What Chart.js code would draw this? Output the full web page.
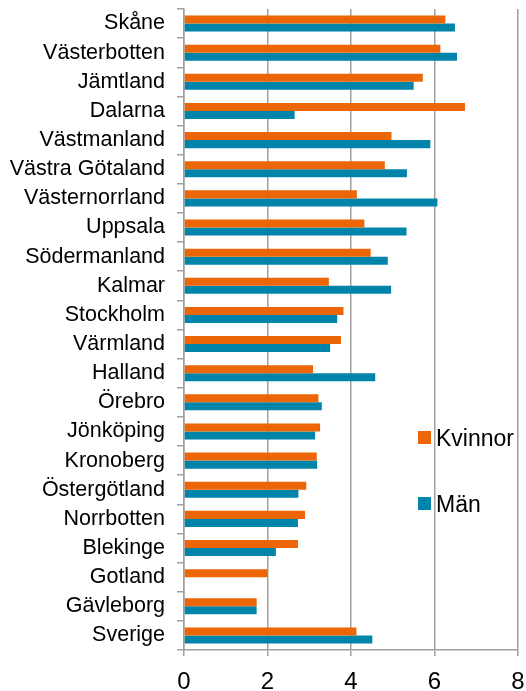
<!DOCTYPE html>
<html>
<head>
<meta charset="utf-8">
<script src="https://cdn.jsdelivr.net/npm/chart.js@4/dist/chart.umd.min.js"></script>
<style>
  html, body { margin: 0; padding: 0; background: #fff; }
  #wrap { position: relative; width: 526px; height: 691px; }
  canvas { display: block; }
  .leg { position: absolute; font-family: "Liberation Sans", Arial, sans-serif; font-size: 23px; color: #000; line-height: 26px; white-space: nowrap; }
  .leg span.sw { position: absolute; left: 0; top: 6.5px; width: 13px; height: 13px; }
  .leg span.tx { position: absolute; left: 18px; top: 0; }
</style>
</head>
<body>
<div id="wrap">
  <canvas id="c" width="526" height="691"></canvas>
  <div id="legend"></div>
</div>
<script>
const categories = ["Skåne","Västerbotten","Jämtland","Dalarna","Västmanland","Västra Götaland","Västernorrland","Uppsala","Södermanland","Kalmar","Stockholm","Värmland","Halland","Örebro","Jönköping","Kronoberg","Östergötland","Norrbotten","Blekinge","Gotland","Gävleborg","Sverige"];
const kvinnor = [6.26,6.14,5.72,6.73,4.97,4.81,4.14,4.32,4.47,3.47,3.82,3.76,3.09,3.22,3.26,3.18,2.93,2.90,2.73,2.00,1.74,4.13];
const man = [6.49,6.54,5.50,2.65,5.90,5.34,6.07,5.33,4.88,4.96,3.67,3.50,4.58,3.30,3.14,3.19,2.74,2.73,2.20,null,1.74,4.51];
const seriesNames = ["Kvinnor","Män"];
const xTicks = [0,2,4,6,8];

const colors = ["#ec6607", "#0084aa"];
const gridColor = "#a0a0a0";
const font = "'Liberation Sans', Arial, sans-serif";

const chart = new Chart(document.getElementById('c'), {
  type: 'bar',
  data: {
    labels: categories,
    datasets: [
      { label: seriesNames[0], data: kvinnor, backgroundColor: colors[0], categoryPercentage: 0.55, barPercentage: 1.0 },
      { label: seriesNames[1], data: man, backgroundColor: colors[1], categoryPercentage: 0.55, barPercentage: 1.0 }
    ]
  },
  options: {
    indexAxis: 'y',
    responsive: false,
    animation: false,
    devicePixelRatio: 1,
    layout: { padding: { top: 9, right: 8, left: 0, bottom: 0 } },
    plugins: { legend: { display: false }, tooltip: { enabled: false } },
    scales: {
      x: {
        min: 0, max: 8,
        afterBuildTicks: s => { s.ticks = xTicks.map(v => ({ value: v })); },
        afterFit: s => { s.height = 41; s.paddingLeft = 0; s.paddingRight = 0; },
        border: { display: true, color: gridColor, width: 1.5 },
        grid: { color: gridColor, lineWidth: 1.5, drawOnChartArea: true, drawTicks: true, tickLength: 6, tickColor: gridColor },
        ticks: { color: '#000', font: { family: font, size: 24 }, padding: 12, maxRotation: 0 }
      },
      y: {
        afterFit: s => { s.width = 184; s.paddingTop = 0; s.paddingBottom = 0; },
        border: { display: true, color: gridColor, width: 1.5 },
        grid: { drawOnChartArea: false, drawTicks: true, tickLength: 7, tickColor: gridColor, lineWidth: 1.5 },
        ticks: { color: '#000', font: { family: font, size: 21.5 }, padding: 12, autoSkip: false }
      }
    }
  }
});

// HTML legend built from datasets
const legendEl = document.getElementById('legend');
const legendTops = [424.5, 490.5];
chart.data.datasets.forEach((ds, i) => {
  const d = document.createElement('div');
  d.className = 'leg';
  d.style.left = '418px';
  d.style.top = legendTops[i] + 'px';
  d.innerHTML = '<span class="sw" style="background:' + ds.backgroundColor + '"></span><span class="tx">' + ds.label + '</span>';
  legendEl.appendChild(d);
});
</script>
</body>
</html>
